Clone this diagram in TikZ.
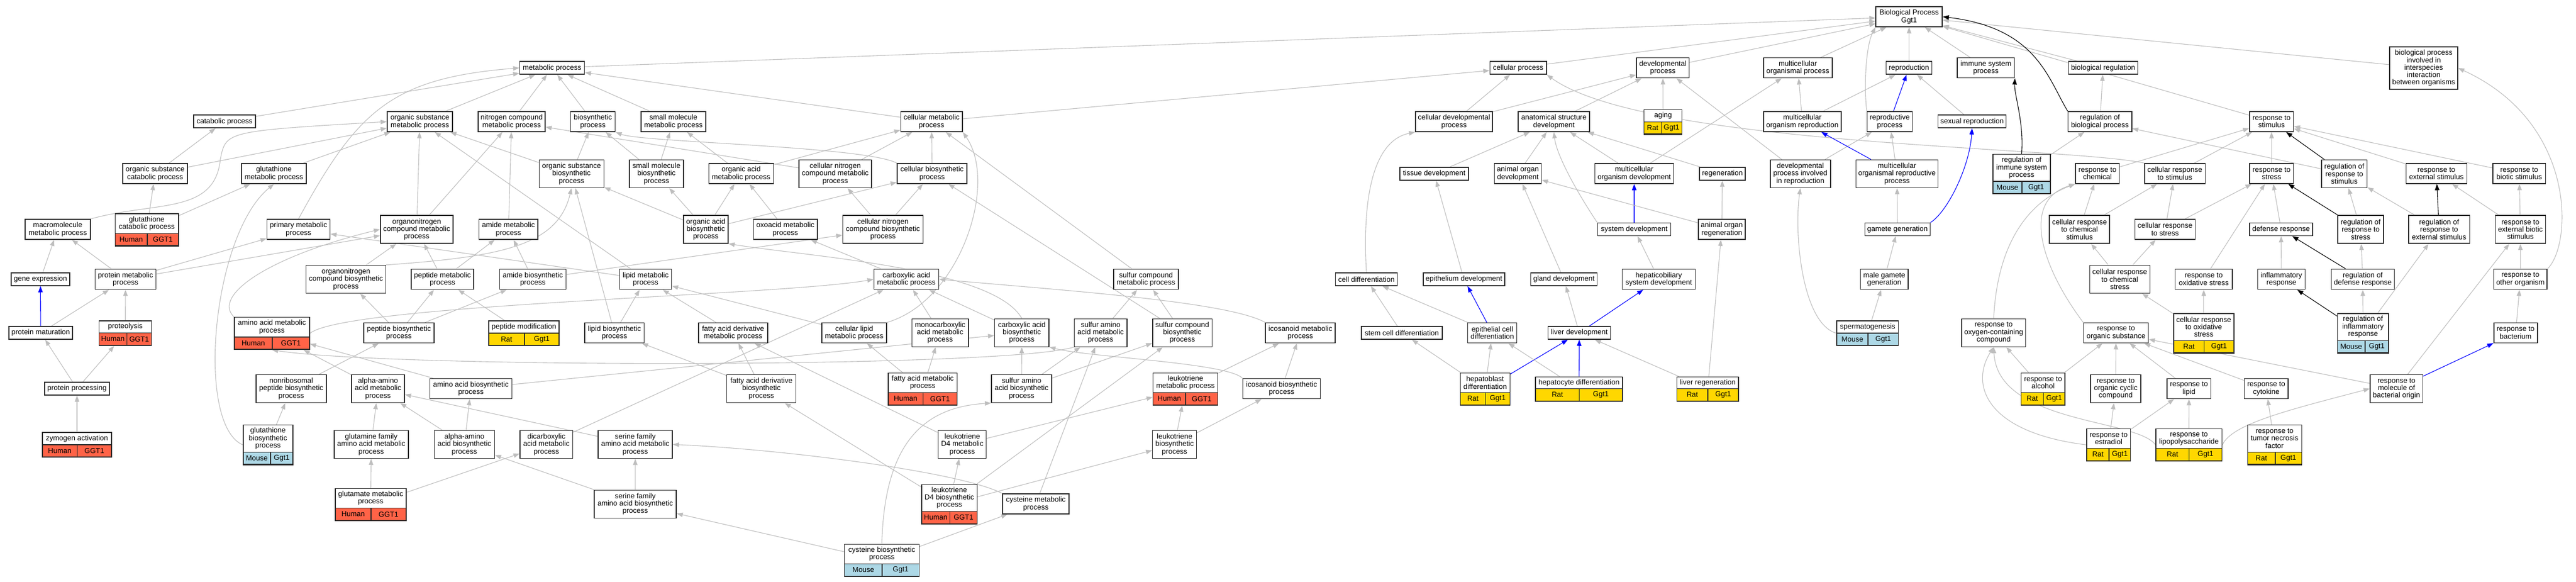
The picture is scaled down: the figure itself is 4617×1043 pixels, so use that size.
\documentclass[tikz,border=0pt]{standalone}
\usepackage{fontspec}
\setmainfont{Liberation Sans}
\usetikzlibrary{arrows.meta}
\definecolor{bd}{HTML}{2A2A2A}
\definecolor{eg}{HTML}{BEBEBE}
\definecolor{cH}{HTML}{FF6347}
\definecolor{cR}{HTML}{FFD700}
\definecolor{cM}{HTML}{ADD8E6}
\definecolor{eblue}{HTML}{0000FF}
\pgfdeclarelayer{bg}
\pgfsetlayers{bg,main}
\newcommand\fsz{\fontsize{13}{13.3}\selectfont}
\def\spH{Human}\def\gnH{GGT1}
\def\spR{Rat}\def\gnR{Ggt1}
\def\spM{Mouse}\def\gnM{Ggt1}
\tikzset{
 box/.style={draw=bd, fill=white, line width=1.5pt, inner sep=0pt, align=center, font=\fsz},
 txt/.style={inner sep=0pt, align=center, font=\fsz},
 e/.style={draw=eg, line width=1.1pt, -{Triangle[length=11pt,width=8pt]}},
 eb/.style={e, draw=eblue},
 ek/.style={e, draw=black},
}
\newcommand\bx[6]{\node[box, minimum width=#4, minimum height=#5] (#1) at (#2,#3) {#6};}
\newcommand\an[8]{%
 \node[box, minimum width=#4, minimum height={#5+21.7}, anchor=north] (#1) at (#2,#3) {};
 \node[txt, minimum height=#5, anchor=north] at (#2,#3) {#8};
 \filldraw[fill=c#7, draw=bd, line width=1.5pt] ({#2-#4/2},{#3+#5}) rectangle ({#2+#4/2},{#3+#5+21.7});
 \draw[bd, line width=1.5pt] (#6,{#3+#5}) -- (#6,{#3+#5+21.7});
 \node[txt] at ({(#2-#4/2+#6)/2},{#3+#5+10.85}) {\csname sp#7\endcsname};
 \node[txt] at ({(#6+#2+#4/2)/2},{#3+#5+10.85}) {\csname gn#7\endcsname};
}
\begin{document}
\begin{tikzpicture}[x=1pt,y=-1pt]
\useasboundingbox (0,0) rectangle (4617,1043);
% ---------- metabolic nodes ----------
\bx{bp}{3421.7}{30}{119}{36}{Biological Process\\Ggt1}
\bx{mp}{989.5}{121.7}{116}{23}{metabolic process}
\bx{catab}{402.5}{217.7}{111}{23}{catabolic process}
\bx{osmp}{752.5}{218}{117}{36}{organic substance\\metabolic process}
\bx{ncmp}{917}{218}{120}{36}{nitrogen compound\\metabolic process}
\bx{bsp}{1062.6}{218}{80}{36}{biosynthetic\\process}
\bx{smmp}{1207}{218}{116}{36}{small molecule\\metabolic process}
\bx{cmp}{1669.7}{218}{110.5}{36}{cellular metabolic\\process}
\bx{oscp}{278}{311}{116}{36}{organic substance\\catabolic process}
\bx{gmp}{491}{311}{116}{36}{glutathione\\metabolic process}
\bx{osbp}{1024.3}{311.4}{116}{50}{organic substance\\biosynthetic\\process}
\bx{smbp}{1176.6}{311.4}{97}{50}{small molecule\\biosynthetic\\process}
\bx{oamp}{1328.3}{311}{116}{36}{organic acid\\metabolic process}
\bx{cncmp}{1497}{311.4}{130}{50}{cellular nitrogen\\compound metabolic\\process}
\bx{cbp}{1670.5}{311}{125}{36}{cellular biosynthetic\\process}
\bx{mmp}{103.5}{411}{117}{36}{macromolecule\\metabolic process}
\an{gcp}{263}{382}{113.5}{36.5}{264}{H}{glutathione\\catabolic process}
\bx{pmp}{535}{411}{113}{36}{primary metabolic\\process}
\bx{oncmp}{746.8}{411}{130}{50}{organonitrogen\\compound metabolic\\process}
\bx{amp}{911.3}{411}{105.5}{36}{amide metabolic\\process}
\bx{oabp}{1265}{411}{80}{50}{organic acid\\biosynthetic\\process}
\bx{oxmp}{1407.7}{411}{114.5}{36}{oxoacid metabolic\\process}
\bx{cncbp}{1582.5}{411}{144}{50}{cellular nitrogen\\compound biosynthetic\\process}
\bx{ge}{72.5}{500.5}{105}{23}{gene expression}
\bx{prmp}{225}{500.5}{109}{36}{protein metabolic\\process}
\bx{oncbp}{620}{500.5}{143}{50}{organonitrogen\\compound biosynthetic\\process}
\bx{pepmp}{793}{500.5}{112}{36}{peptide metabolic\\process}
\bx{ambp}{955}{500.5}{119.4}{36}{amide biosynthetic\\process}
\bx{lmp}{1157.2}{500.5}{93}{36}{lipid metabolic\\process}
\bx{camp}{1624.5}{500.5}{116.4}{36}{carboxylic acid\\metabolic process}
\bx{scmp}{2054}{500.5}{116}{36}{sulfur compound\\metabolic process}
\bx{pmat}{73}{596.5}{114}{23}{protein maturation}
\an{prot}{224.6}{574}{94}{22.7}{227.3}{H}{proteolysis}
\an{aamp}{487.4}{567.8}{134.7}{36}{488}{H}{amino acid metabolic\\process}
\bx{pepbp}{715}{596.5}{126}{36}{peptide biosynthetic\\process}
\an{pepmod}{939}{574.2}{126.4}{22.8}{940}{R}{peptide modification}
\bx{lbp}{1101.3}{596.5}{106.5}{36}{lipid biosynthetic\\process}
\bx{fadmp}{1314}{596.5}{124}{36}{fatty acid derivative\\metabolic process}
\bx{clmp}{1531}{596.5}{116}{36}{cellular lipid\\metabolic process}
\bx{mcamp}{1685}{596.3}{101.5}{50}{monocarboxylic\\acid metabolic\\process}
\bx{cabp}{1831.4}{596.3}{97.5}{50}{carboxylic acid\\biosynthetic\\process}
\bx{saamp}{1972.7}{596.3}{94.5}{50}{sulfur amino\\acid metabolic\\process}
\bx{scbp}{2119}{596.3}{106.5}{50}{sulfur compound\\biosynthetic\\process}
\bx{icmp}{2330.7}{596.5}{125}{36}{icosanoid metabolic\\process}
\bx{pproc}{138}{696.5}{116}{23}{protein processing}
\bx{nrpbp}{522}{696.6}{126}{50}{nonribosomal\\peptide biosynthetic\\process}
\bx{aaamp}{677.5}{696.6}{95}{50}{alpha-amino\\acid metabolic\\process}
\bx{aabp}{844}{696.5}{147}{36}{amino acid biosynthetic\\process}
\bx{fadbp}{1364.7}{696.6}{124}{50}{fatty acid derivative\\biosynthetic\\process}
\an{famp}{1653.8}{667.7}{123.5}{36}{1654.3}{H}{fatty acid metabolic\\process}
\bx{saabp}{1831}{696.6}{108}{50}{sulfur amino\\acid biosynthetic\\process}
\an{ltmp}{2124.7}{667.7}{116}{36}{2125}{H}{leukotriene\\metabolic process}
\bx{icbp}{2297}{696.5}{139}{36}{icosanoid biosynthetic\\process}
\an{zyact}{138}{774.4}{124}{22.8}{138.3}{H}{zymogen activation}
\an{gbp}{480.3}{760.8}{89}{49.7}{485}{M}{glutathione\\biosynthetic\\process}
\bx{gfamp}{665.4}{796.5}{133}{50}{glutamine family\\amino acid metabolic\\process}
\bx{aaabp}{832.4}{796.5}{108}{50}{alpha-amino\\acid biosynthetic\\process}
\bx{dcamp}{979.3}{796.5}{94.5}{50}{dicarboxylic\\acid metabolic\\process}
\bx{sfamp}{1138.6}{796.5}{133}{50}{serine family\\amino acid metabolic\\process}
\bx{ltdmp}{1724.7}{796.5}{86}{50}{leukotriene\\D4 metabolic\\process}
\bx{ltbp}{2105.2}{796.5}{79}{50}{leukotriene\\biosynthetic\\process}
\an{glump}{664.4}{874.7}{126.8}{36}{665}{H}{glutamate metabolic\\process}
\bx{sfabp}{1138.6}{903.3}{147}{50}{serine family\\amino acid biosynthetic\\process}
\an{ltdbp}{1701.5}{867.6}{99.5}{49}{1702.6}{H}{leukotriene\\D4 biosynthetic\\process}
\bx{cysmp}{1856.5}{903}{119}{36}{cysteine metabolic\\process}
\an{cysbp}{1580.5}{974.6}{133.7}{36}{1581.2}{M}{cysteine biosynthetic\\process}
% ---------- right part ----------
\bx{cp}{2721}{121.7}{101.5}{23}{cellular process}
\bx{dp}{2980.4}{121.7}{94.5}{36}{developmental\\process}
\bx{mop}{3222.3}{121.7}{123}{36}{multicellular\\organismal process}
\bx{repro}{3421.5}{121.7}{81.6}{23}{reproduction}
\bx{isp}{3559.3}{121.7}{102.5}{36}{immune system\\process}
\bx{breg}{3769.5}{121.7}{123.7}{23}{biological regulation}
\bx{bpii}{4344}{122}{122}{76}{biological process\\involved in\\interspecies\\interaction\\between organisms}
\bx{cdp}{2606}{218}{138}{36}{cellular developmental\\process}
\bx{asd}{2785}{218}{128}{36}{anatomical structure\\development}
\an{aging}{2980.7}{195.7}{68}{22.7}{2977.4}{R}{aging}
\bx{mor}{3230.3}{218}{139}{36}{multicellular\\organism reproduction}
\bx{rp}{3387}{218}{81}{36}{reproductive\\process}
\bx{sr}{3534.5}{217.7}{122}{23}{sexual reproduction}
\bx{rbp}{3763.7}{218}{114}{36}{regulation of\\biological process}
\bx{rs}{4071.3}{218}{78.7}{36}{response to\\stimulus}
\bx{td}{2570.5}{311.4}{123.4}{23}{tissue development}
\bx{aod}{2720.5}{311}{84}{36}{animal organ\\development}
\bx{mod}{2929}{311}{141}{36}{multicellular\\organism development}
\bx{regen}{3087}{311.4}{82}{23}{regeneration}
\bx{dpir}{3226.8}{311.4}{108}{50}{developmental\\process involved\\in reproduction}
\bx{morp}{3400}{311.4}{147}{50}{multicellular\\organismal reproductive\\process}
\an{risp}{3623.3}{275.9}{103}{49.3}{3624}{M}{regulation of\\immune system\\process}
\bx{rchem}{3759.3}{311}{78.6}{36}{response to\\chemical}
\bx{crs}{3898}{311}{108.4}{36}{cellular response\\to stimulus}
\bx{rstress}{4071.3}{311}{78.7}{36}{response to\\stress}
\bx{rrs}{4201.7}{311.4}{81.4}{50}{regulation of\\response to\\stimulus}
\bx{res}{4366.7}{311}{109}{36}{response to\\external stimulus}
\bx{rbs}{4515.2}{311}{94.4}{36}{response to\\biotic stimulus}
\bx{sd}{2929}{411}{131}{23}{system development}
\bx{aor}{3086}{411}{84}{36}{animal organ\\regeneration}
\bx{gg}{3400.8}{411}{117}{23}{gamete generation}
\bx{crcs}{3727.2}{411.2}{108}{50}{cellular response\\to chemical\\stimulus}
\bx{crst}{3880.5}{411}{108}{36}{cellular response\\to stress}
\bx{dr}{4088.4}{411}{113}{23}{defense response}
\bx{rrst}{4231}{411.2}{81.8}{50}{regulation of\\response to\\stress}
\bx{rres}{4371.6}{411.2}{109.4}{50}{regulation of\\response to\\external stimulus}
\bx{rebs}{4517.3}{411.2}{90}{50}{response to\\external biotic\\stimulus}
\bx{cdiff}{2449}{500.6}{111.4}{23}{cell differentiation}
\bx{epd}{2623.8}{500.6}{146}{23}{epithelium development}
\bx{gd}{2803}{500.6}{119}{23}{gland development}
\bx{hsd}{2973}{500.5}{131}{36}{hepaticobiliary\\system development}
\bx{mgg}{3377.2}{500.5}{85.5}{36}{male gamete\\generation}
\bx{crcst}{3799.3}{500.4}{108}{50}{cellular response\\to chemical\\stress}
\bx{ros}{3949.8}{500.5}{102.6}{36}{response to\\oxidative stress}
\bx{infl}{4089}{500.5}{85}{36}{inflammatory\\response}
\bx{rdr}{4234.8}{500.5}{113}{36}{regulation of\\defense response}
\bx{roo}{4517.3}{500.5}{95.4}{36}{response to\\other organism}
\bx{scd}{2512.5}{596.5}{145}{23}{stem cell differentiation}
\bx{ecd}{2674.7}{596.5}{88}{36}{epithelial cell\\differentiation}
\bx{ld}{2830.5}{596.5}{112}{23}{liver development}
\an{sperm}{3347.4}{574.2}{110.4}{22.8}{3348}{M}{spermatogenesis}
\bx{rocc}{3573.3}{596.3}{114.4}{50}{response to\\oxygen-containing\\compound}
\bx{rosub}{3792.5}{596.5}{116}{36}{response to\\organic substance}
\an{cros}{3949.8}{561}{107.8}{49.3}{3950.6}{R}{cellular response\\to oxidative\\stress}
\an{rir}{4235.2}{561}{91.7}{49.3}{4238.8}{M}{regulation of\\inflammatory\\response}
\bx{rbact}{4508.7}{596.5}{78}{36}{response to\\bacterium}
\an{hbd}{2661.8}{667.7}{89}{36}{2662.5}{R}{hepatoblast\\differentiation}
\an{hcd}{2830}{674.5}{155.8}{22.1}{2830.7}{R}{hepatocyte differentiation}
\an{lreg}{3060.7}{674.5}{110.7}{22.1}{3061}{R}{liver regeneration}
\an{ralc}{3661.8}{667.7}{78.6}{36}{3662.3}{R}{response to\\alcohol}
\bx{rocyc}{3792}{696.6}{90}{50}{response to\\organic cyclic\\compound}
\bx{rlip}{3923.3}{696.5}{78.7}{36}{response to\\lipid}
\bx{rcyt}{4061.8}{696.5}{78.7}{36}{response to\\cytokine}
\bx{rmbo}{4295.2}{696.6}{94.3}{50}{response to\\molecule of\\bacterial origin}
\an{rest}{3779.3}{767.6}{78.5}{36}{3780.2}{R}{response to\\estradiol}
\an{rlps}{3923.2}{767.6}{118.4}{36}{3923.5}{R}{response to\\lipopolysaccharide}
\an{rtnf}{4076.7}{760.8}{97}{49.7}{4077.7}{R}{response to\\tumor necrosis\\factor}
% ---------- edges ----------
\begin{pgfonlayer}{bg}
\fill[white] (0,0) rectangle (4617,1043);
\draw[e] (mp) -- (bp);
\draw[e] (cp) -- (bp);
\draw[e] (dp) -- (bp);
\draw[e] (mop) -- (bp);
\draw[e] (rp.north west) .. controls (3340,150) and (3345,80) .. (bp.south west);
\draw[e] (repro) -- (bp);
\draw[e] (isp) -- (bp);
\draw[e] (breg) -- (bp);
\draw[e] (rs) -- (bp);
\draw[e] (bpii) -- (bp);
\draw[ek] (rbp.north west) .. controls (3670,140) and (3650,50) .. (bp.east);
\draw[e] (catab) -- (mp);
\draw[e] (pmp.north) .. controls (640,200) and (700,140) .. (mp.west);
\draw[e] (osmp) -- (mp);
\draw[e] (ncmp) -- (mp);
\draw[e] (bsp) -- (mp);
\draw[e] (smmp) -- (mp);
\draw[e] (cmp) -- (mp);
\draw[e] (cmp) -- (cp);
\draw[e] (oscp) -- (catab);
\draw[e] (oscp) -- (osmp);
\draw[e] (gmp) -- (osmp);
\draw[e] (gcp) -- (oscp);
\draw[e] (gcp) -- (gmp);
\draw[e] (gbp.west) .. controls (350,760) and (380,420) .. (gmp.south);
\draw[e] (mmp.north east) .. controls (280,360) and (385,385) .. (395,285) .. controls (405,235) .. (osmp.west);
\draw[e] (oncmp) -- (osmp);
\draw[e] (oncmp) -- (ncmp);
\draw[e] (osbp) -- (osmp);
\draw[e] (osbp) -- (bsp);
\draw[e] (smbp) -- (bsp);
\draw[e] (smbp) -- (smmp);
\draw[e] (oamp) -- (smmp);
\draw[e] (oamp) -- (cmp);
\draw[e] (cncmp) -- (ncmp);
\draw[e] (cncmp) -- (cmp);
\draw[e] (cbp) -- (cmp);
\draw[e] (cbp.north west) .. controls (1550,262) and (1150,255) .. (bsp.south east);
\draw[e] (amp) -- (ncmp);
\draw[e] (oabp) -- (osbp);
\draw[e] (oabp) -- (smbp);
\draw[e] (oabp) -- (oamp);
\draw[e] (oabp) -- (cbp);
\draw[e] (oxmp) -- (oamp);
\draw[e] (cncbp) -- (cncmp);
\draw[e] (cncbp) -- (cbp);
\draw[e] (ge) -- (mmp);
\draw[e] (prmp) -- (mmp);
\draw[e] (prmp) -- (pmp);
\draw[e] (prmp) -- (oncmp);
\draw[e] (oncbp) -- (oncmp);
\draw[e] (oncbp.north east) .. controls (900,460) and (1000,440) .. (osbp.south);
\draw[e] (pepmp) -- (amp);
\draw[e] (pepmp) -- (oncmp);
\draw[e] (ambp) -- (amp);
\draw[e] (ambp) -- (cncbp);
\draw[e] (lmp) -- (osmp);
\draw[e] (lmp) -- (pmp);
\draw[e] (camp) -- (oxmp);
\draw[e] (scmp) -- (cmp);
\draw[eb] (pmat) -- (ge);
\draw[e] (pmat) -- (prmp);
\draw[e] (prot) -- (prmp);
\draw[e] (pproc) -- (pmat);
\draw[e] (pproc) -- (prot);
\draw[e] (zyact) -- (pproc);
\draw[e] (aamp.north west) .. controls (380,530) and (480,460) .. (oncmp.west);
\draw[e] (aamp.east) .. controls (620,545) and (1400,530) .. (camp.west);
\draw[e] (pepbp) -- (pepmp);
\draw[e] (pepbp) -- (ambp);
\draw[e] (pepbp) -- (oncbp);
\draw[e] (pepmod) -- (pepmp);
\draw[e] (lbp) -- (lmp);
\draw[e] (lbp) -- (osbp);
\draw[e] (fadmp) -- (lmp);
\draw[e] (clmp) -- (lmp);
\draw[e] (clmp.north east) .. controls (1720,540) and (1790,330) .. (cmp.south east);
\draw[e] (mcamp) -- (camp);
\draw[e] (cabp) -- (camp);
\draw[e] (cabp.north) .. controls (1780,480) and (1450,460) .. (oabp.south east);
\draw[e] (saamp) -- (scmp);
\draw[e] (saamp.south west) .. controls (1800,660) and (700,660) .. (aamp.south);
\draw[e] (scbp) -- (scmp);
\draw[e] (scbp) -- (cbp);
\draw[e] (icmp.north west) .. controls (2200,540) and (1900,520) .. (camp.east);
\draw[e] (nrpbp) -- (pepbp);
\draw[e] (aaamp) -- (aamp);
\draw[e] (aabp) -- (aamp);
\draw[e] (aabp) -- (cabp);
\draw[e] (fadbp) -- (fadmp);
\draw[e] (fadbp) -- (lbp);
\draw[e] (famp) -- (mcamp);
\draw[e] (famp) -- (clmp);
\draw[e] (saabp) -- (saamp);
\draw[e] (saabp) -- (scbp);
\draw[e] (saabp) -- (cabp);
\draw[e] (ltmp) -- (icmp);
\draw[e] (icbp) -- (icmp);
\draw[e] (icbp.north west) .. controls (2200,650) and (1950,640) .. (cabp.south east);
\draw[e] (ltdmp) -- (ltmp);
\draw[e] (ltdmp) -- (fadmp);
\draw[e] (gbp) -- (nrpbp);
\draw[e] (gfamp) -- (aaamp);
\draw[e] (aaabp) -- (aabp);
\draw[e] (aaabp) -- (aaamp);
\draw[e] (dcamp) -- (camp);
\draw[e] (sfamp) -- (aaamp);
\draw[e] (sfabp) -- (sfamp);
\draw[e] (sfabp) -- (aaabp);
\draw[e] (glump) -- (gfamp);
\draw[e] (glump) -- (dcamp);
\draw[e] (ltbp) -- (ltmp);
\draw[e] (ltbp) -- (icbp);
\draw[e] (ltdbp) -- (ltdmp);
\draw[e] (ltdbp) -- (ltbp);
\draw[e] (ltdbp) -- (scbp);
\draw[e] (ltdbp) -- (fadbp);
\draw[e] (cysmp.north west) .. controls (1720,845) and (1400,805) .. (sfamp.east);
\draw[e] (cysmp) -- (saamp);
\draw[e] (cysbp) -- (cysmp);
\draw[e] (cysbp) -- (sfabp);
\draw[e] (cysbp.north) .. controls (1585,800) and (1650,730) .. (saabp.south west);
% development
\draw[e] (cdp) -- (cp);
\draw[e] (cdp) -- (dp);
\draw[e] (asd) -- (dp);
\draw[e] (aging) -- (dp);
\draw[e] (td) -- (asd);
\draw[e] (aod) -- (asd);
\draw[e] (mod) -- (asd);
\draw[e] (mod) -- (mop);
\draw[e] (regen) -- (asd);
\draw[e] (crs.north west) .. controls (3700,262) and (2950,262) .. (cp.south east);
\draw[e] (dpir) -- (dp);
\draw[e] (dpir) -- (rp);
\draw[eb] (sd) -- (mod);
\draw[e] (sd.north west) .. controls (2830,350) and (2790,280) .. (asd.south);
\draw[e] (aor) -- (regen);
\draw[e] (aor) -- (aod);
\draw[e] (cdiff.north) .. controls (2440,330) and (2470,250) .. (cdp.south west);
\draw[e] (epd) -- (td);
\draw[e] (gd) -- (aod);
\draw[e] (hsd) -- (sd);
\draw[e] (scd) -- (cdiff);
\draw[eb] (ecd) -- (epd);
\draw[e] (ecd) -- (cdiff);
\draw[e] (ld) -- (gd);
\draw[eb] (ld) -- (hsd);
\draw[e] (hbd) -- (scd);
\draw[e] (hbd) -- (ecd);
\draw[eb] (hbd) -- (ld);
\draw[e] (hcd) -- (ecd);
\draw[eb] (hcd) -- (ld);
\draw[e] (lreg) -- (ld);
\draw[e] (lreg) -- (aor);
% reproduction
\draw[e] (mor) -- (mop);
\draw[e] (mor) -- (repro);
\draw[eb] (rp) -- (repro);
\draw[e] (sr) -- (repro);
\draw[eb] (morp) -- (mor);
\draw[e] (morp) -- (rp);
\draw[e] (gg) -- (morp);
\draw[eb] (gg.north east) .. controls (3490,380) and (3530,300) .. (sr.south);
\draw[e] (mgg) -- (gg);
\draw[e] (sperm) -- (mgg);
\draw[e] (sperm.west) .. controls (3230,580) and (3215,420) .. (dpir.south);
\draw[ek] (risp.north) .. controls (3628,220) and (3610,170) .. (isp.south east);
\draw[e] (risp) -- (rbp);
\draw[e] (rbp) -- (breg);
% response
\draw[e] (rchem) -- (rs);
\draw[e] (crs) -- (rs);
\draw[e] (rstress) -- (rs);
\draw[ek] (rrs) -- (rs);
\draw[e] (rrs) -- (rbp);
\draw[e] (res) -- (rs);
\draw[e] (rbs) -- (rs);
\draw[e] (crcs) -- (rchem);
\draw[e] (crcs) -- (crs);
\draw[e] (crst) -- (crs);
\draw[e] (crst) -- (rstress);
\draw[e] (dr) -- (rstress);
\draw[ek] (rrst) -- (rstress);
\draw[e] (rrst) -- (rrs);
\draw[ek] (rres) -- (res);
\draw[e] (rres) -- (rrs);
\draw[e] (rebs) -- (res);
\draw[e] (rebs) -- (rbs);
\draw[e] (ros) -- (rstress);
\draw[e] (infl) -- (dr);
\draw[ek] (rdr) -- (dr);
\draw[e] (rdr) -- (rrst);
\draw[e] (roo) -- (rebs);
\draw[e] (roo.north east) .. controls (4610,440) and (4620,220) .. (bpii.east);
\draw[e] (crcst) -- (crcs);
\draw[e] (crcst) -- (crst);
\draw[e] (rocc.north) .. controls (3580,430) and (3640,360) .. (rchem.south west);
\draw[e] (rosub.north west) .. controls (3660,480) and (3620,360) .. (rchem.south west);
\draw[e] (cros) -- (ros);
\draw[e] (cros) -- (crcst);
\draw[ek] (rir) -- (infl);
\draw[e] (rir) -- (rdr);
\draw[e] (rir) -- (rres);
\draw[e] (rbact) -- (roo);
\draw[e] (ralc) -- (rocc);
\draw[e] (ralc) -- (rosub);
\draw[e] (rocyc) -- (rosub);
\draw[e] (rlip) -- (rosub);
\draw[e] (rcyt) -- (rosub);
\draw[eb] (rmbo) -- (rbact);
\draw[e] (rmbo) -- (rosub);
\draw[e] (rmbo) -- (rebs);
\draw[e] (rest) -- (rocyc);
\draw[e] (rest.west) .. controls (3560,775) and (3530,690) .. (rocc.south);
\draw[e] (rest) -- (rlip);
\draw[e] (rlps.east) .. controls (4000,760) and (4100,735) .. (rmbo.west);
\draw[e] (rlps) -- (rlip);
\draw[e] (rlps.west) .. controls (3830,750) and (3580,760) .. (rocc.south);
\draw[e] (rtnf) -- (rcyt);
\end{pgfonlayer}
\end{tikzpicture}
\end{document}
